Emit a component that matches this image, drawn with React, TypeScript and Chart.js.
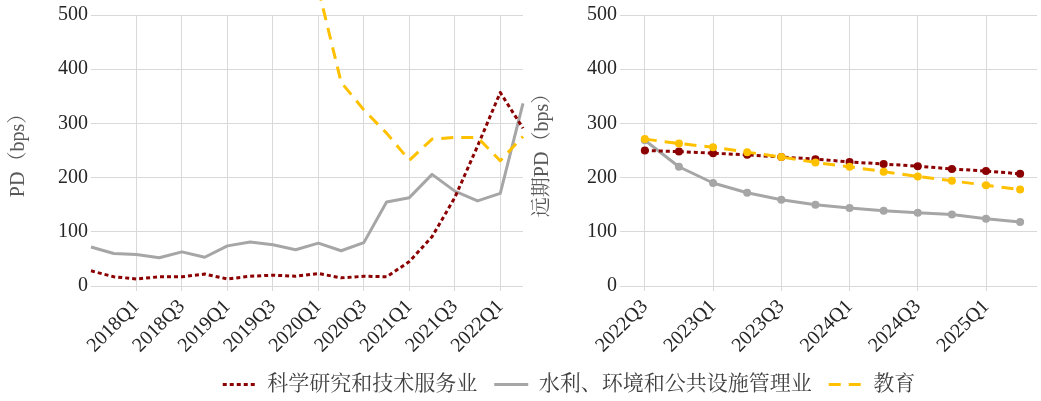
import { useEffect, useRef } from 'react';
import { Chart, registerables } from 'chart.js';

Chart.register(...registerables);

const SERIF = "'Liberation Serif', 'Times New Roman', 'Noto Serif CJK SC', 'Noto Sans CJK SC', serif";

const seriesNames = ['科学研究和技术服务业', '水利、环境和公共设施管理业', '教育'];
const seriesColors = ['#8B0000', '#A6A6A6', '#FFC000'];
const seriesDashes = [[4, 3], [], [12, 8]];
const seriesOrder = [1, 2, 0];

const leftQuarters = [
  '2017Q3', '2017Q4', '2018Q1', '2018Q2', '2018Q3', '2018Q4', '2019Q1', '2019Q2', '2019Q3', '2019Q4',
  '2020Q1', '2020Q2', '2020Q3', '2020Q4', '2021Q1', '2021Q2', '2021Q3', '2021Q4', '2022Q1', '2022Q2',
];
const leftTickIdx = [2, 4, 6, 8, 10, 12, 14, 16, 18];
const sciLeft = [28, 17, 13, 17, 17, 22, 13, 18, 20, 18, 23, 15, 18, 17, 45, 91, 163, 258, 357, 291];
const waterLeft = [72, 60, 58, 52, 63, 53, 74, 81, 76, 67, 79, 65, 80, 155, 163, 206, 175, 157, 171, 337];
const eduLeft = [null, null, null, null, null, null, null, null, null, null, 548, 376, 325, 282, 232, 271, 274, 274, 231, 276];

const rightQuarters = [
  '2022Q3', '2022Q4', '2023Q1', '2023Q2', '2023Q3', '2023Q4',
  '2024Q1', '2024Q2', '2024Q3', '2024Q4', '2025Q1', '2025Q2',
];
const rightTickIdx = [0, 2, 4, 6, 8, 10];
const sciRight = [250, 248, 245, 242, 238, 234, 229, 225, 221, 216, 212, 207];
const waterRight = [269, 220, 190, 172, 159, 150, 144, 139, 135, 132, 124, 118];
const eduRight = [271, 263, 256, 247, 238, 228, 220, 211, 202, 194, 186, 178];

const yTicks = [0, 100, 200, 300, 400, 500];

const GRID = '#D9D9D9';
const TICK_COLOR = '#262626';
const TITLE_COLOR = '#595959';

function panelConfig(
  labels: string[],
  series: (number | null)[][],
  tickIdx: number[],
  xMin: number,
  xMax: number,
  yTitle: string,
  yWidth: number,
  titlePad: number,
  padRight: number,
  pointRadius: number,
): any {
  return {
    type: 'line',
    data: {
      datasets: series.map((vals, i) => ({
        label: seriesNames[i],
        data: vals.map((v, j) => ({ x: j, y: v })),
        borderColor: seriesColors[i],
        backgroundColor: seriesColors[i],
        borderDash: seriesDashes[i],
        borderWidth: 3,
        borderCapStyle: 'butt',
        borderJoinStyle: 'round',
        pointRadius,
        pointHoverRadius: pointRadius,
        pointBorderWidth: 0,
        pointBackgroundColor: seriesColors[i],
        tension: 0,
        clip: false,
        order: seriesOrder[i],
      })),
    },
    options: {
      responsive: false,
      animation: false,
      events: [],
      layout: { padding: { top: 15, right: padRight, left: 0, bottom: 0 } },
      plugins: { legend: { display: false }, tooltip: { enabled: false } },
      scales: {
        x: {
          type: 'linear',
          min: xMin,
          max: xMax,
          afterBuildTicks: (axis: any) => {
            axis.ticks = tickIdx.map((v) => ({ value: v }));
          },
          afterFit: (s: any) => {
            s.height = 74;
          },
          ticks: {
            autoSkip: false,
            minRotation: 45,
            maxRotation: 45,
            padding: 4,
            color: TICK_COLOR,
            font: { family: SERIF, size: 20 },
            callback: (v: any) => labels[Math.round(Number(v))] ?? '',
          },
          grid: { color: GRID, lineWidth: 1, drawTicks: true, tickLength: 5 },
          border: { display: false },
        },
        y: {
          min: 0,
          max: 500,
          afterBuildTicks: (axis: any) => {
            axis.ticks = yTicks.map((v) => ({ value: v }));
          },
          afterFit: (s: any) => {
            s.width = yWidth;
          },
          ticks: {
            padding: 3,
            color: TICK_COLOR,
            font: { family: SERIF, size: 20 },
          },
          grid: { color: GRID, lineWidth: 1, drawTicks: false },
          border: { display: false },
          title: {
            display: true,
            text: yTitle,
            color: TITLE_COLOR,
            font: { family: SERIF, size: 20 },
            padding: { top: titlePad, bottom: 0 },
          },
        },
      },
    },
  };
}

function legendConfig(): any {
  return {
    type: 'line',
    data: {
      datasets: seriesNames.map((n, i) => ({
        label: n,
        data: [],
        borderColor: seriesColors[i],
        backgroundColor: seriesColors[i],
        borderDash: seriesDashes[i],
        borderWidth: 3,
      })),
    },
    options: {
      responsive: false,
      animation: false,
      events: [],
      layout: { padding: 0 },
      scales: { x: { display: false }, y: { display: false } },
      plugins: {
        tooltip: { enabled: false },
        legend: {
          display: true,
          position: 'top',
          align: 'center',
          maxHeight: 100,
          labels: {
            usePointStyle: true,
            pointStyle: 'line',
            pointStyleWidth: 34,
            padding: 17,
            color: '#404040',
            font: { family: SERIF, size: 21 },
            generateLabels: () =>
              seriesNames.map((n, i) => ({
                text: n,
                fillStyle: seriesColors[i],
                strokeStyle: seriesColors[i],
                lineWidth: 3,
                lineDash: seriesDashes[i],
                lineCap: 'butt',
                pointStyle: 'line',
                hidden: false,
                datasetIndex: i,
                fontColor: '#404040',
              })),
          },
        },
      },
    },
  };
}

export default function App() {
  const leftRef = useRef<HTMLCanvasElement | null>(null);
  const rightRef = useRef<HTMLCanvasElement | null>(null);
  const legendRef = useRef<HTMLCanvasElement | null>(null);

  useEffect(() => {
    document.body.style.margin = '0';
    const charts: Chart[] = [];
    if (leftRef.current) {
      charts.push(
        new Chart(
          leftRef.current,
          panelConfig(leftQuarters, [sciLeft, waterLeft, eduLeft], leftTickIdx, 0, 19, 'PD（bps）', 91, 7, 2, 0),
        ),
      );
    }
    if (rightRef.current) {
      charts.push(
        new Chart(
          rightRef.current,
          panelConfig(rightQuarters, [sciRight, waterRight, eduRight], rightTickIdx, -0.727, 11.494, '远期PD（bps）', 95, 6, 1, 4),
        ),
      );
    }
    if (legendRef.current) {
      charts.push(new Chart(legendRef.current, legendConfig()));
    }
    return () => {
      charts.forEach((c) => c.destroy());
    };
  }, []);

  return (
    <div style={{ position: 'relative', width: 1041, height: 401, background: '#ffffff', overflow: 'hidden' }}>
      <canvas ref={leftRef} width={525} height={360} style={{ position: 'absolute', left: 0, top: 0, width: 525, height: 360 }} />
      <canvas ref={rightRef} width={516} height={360} style={{ position: 'absolute', left: 525, top: 0, width: 516, height: 360 }} />
      <canvas ref={legendRef} width={944} height={44} style={{ position: 'absolute', left: 97, top: 357, width: 944, height: 44 }} />
    </div>
  );
}
